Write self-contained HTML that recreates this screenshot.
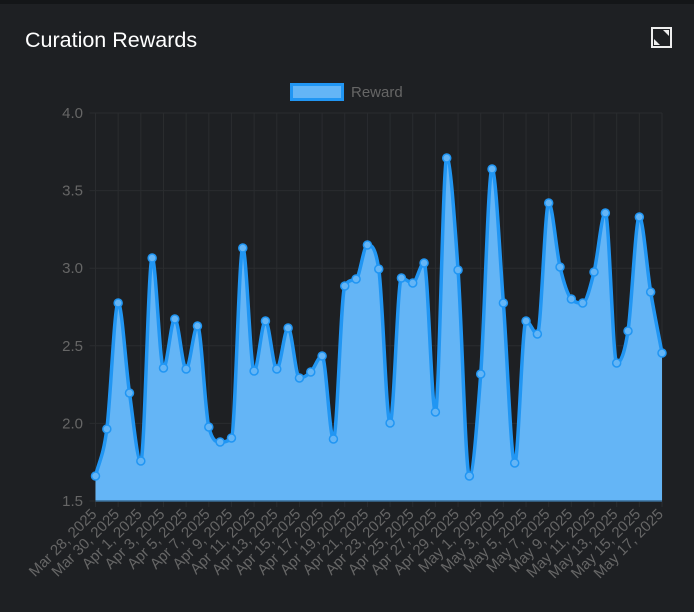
<!DOCTYPE html>
<html><head><meta charset="utf-8"><style>
html,body{margin:0;padding:0;background:#1e2023;width:694px;height:612px;overflow:hidden;font-family:"Liberation Sans",sans-serif}
.top{position:absolute;left:0;top:0;width:694px;height:4px;background:#141618}
.title{position:absolute;left:25px;top:28px;color:#fff;font-size:21.5px}
.icon{position:absolute;left:651px;top:27px;width:21px;height:21px;border:2px solid #eee;box-sizing:border-box}
</style></head><body>
<div class="top"></div>
<div class="title">Curation Rewards</div>
<div class="icon"><svg width="17" height="17" style="position:absolute;left:0;top:0"><polygon points="1,10 1,16 7,16" fill="#eee"/><polygon points="10,1 16,1 16,7" fill="#eee"/></svg></div>
<svg id="c" width="694" height="612" style="position:absolute;left:0;top:0" font-family="Liberation Sans, sans-serif"></svg>
<script>
var ys=[476,429,303,393,461,258,368,319,369,326,427,442,438,248,371,321,369,328,378,372,356,439,286,279,245,269,423,278,283,263,412,158,270,476,374,169,303,463,321,334,203,267,299,303,272,213,363,331,217,292,353];
var x0=95.5,x1=662,y0=113,y1=501,n=ys.length,dx=(x1-x0)/(n-1);
var s='';
s+='<rect x="290" y="83" width="54" height="18" fill="#2196f3"/><rect x="293" y="86" width="48" height="12" fill="#64b5f6"/>';
s+='<text x="351" y="97" fill="#666" font-size="15">Reward</text>';
for(var i=0;i<=25;i++){var gx=x0+i*2*dx;s+='<line x1="'+gx+'" y1="'+y0+'" x2="'+gx+'" y2="'+(y1+6)+'" stroke="#2a2c2f"/>';}
var yl=['4.0','3.5','3.0','2.5','2.0','1.5'];
for(var j=0;j<6;j++){var gy=y0+j*(y1-y0)/5;s+='<line x1="'+(x0-6)+'" y1="'+gy+'" x2="'+x1+'" y2="'+gy+'" stroke="#2a2c2f"/>';s+='<text x="83" y="'+(gy+5)+'" fill="#666" font-size="15" text-anchor="end">'+yl[j]+'</text>';}
// monotone cubic
var P=ys.map(function(y,i){return [x0+i*dx,y];});
var del=[],m=[];
for(var i=0;i<n-1;i++)del.push((ys[i+1]-ys[i])/dx);
m[0]=del[0];m[n-1]=del[n-2];
for(var i=1;i<n-1;i++){m[i]=(del[i-1]*del[i]<=0)?0:(del[i-1]+del[i])/2;}
for(var i=0;i<n-1;i++){if(del[i]==0){m[i]=0;m[i+1]=0;continue;}var a=m[i]/del[i],b=m[i+1]/del[i],h=a*a+b*b;if(h>9){var t=3/Math.sqrt(h);m[i]=t*a*del[i];m[i+1]=t*b*del[i];}}
var d='M'+P[0][0]+','+P[0][1];
for(var i=0;i<n-1;i++){var h=dx/3;d+=' C'+(P[i][0]+h)+','+(P[i][1]+m[i]*h)+' '+(P[i+1][0]-h)+','+(P[i+1][1]-m[i+1]*h)+' '+P[i+1][0]+','+P[i+1][1];}
s+='<path d="'+d+' L'+x1+','+y1+' L'+x0+','+y1+'Z" fill="#64b5f6"/>';
s+='<path d="'+d+'" fill="none" stroke="#2196f3" stroke-width="3.5"/>';
s+='<line x1="'+x0+'" y1="'+y1+'" x2="'+x1+'" y2="'+y1+'" stroke="#3a6d96" stroke-width="1.5"/>';
P.forEach(function(p){s+='<circle cx="'+p[0]+'" cy="'+p[1]+'" r="4" fill="#64b5f6" stroke="#2196f3" stroke-width="1.5"/>';});
var mo=['Mar','Apr','May'];
for(var i=0;i<n;i+=2){var mm=0,dd=28+i;if(dd>31){dd-=31;mm=1;if(dd>30){dd-=30;mm=2;}}
var lx=x0+i*dx+2,ly=y1+14;
s+='<text transform="translate('+lx+','+ly+') rotate(-45)" fill="#666" font-size="15" text-anchor="end">'+mo[mm]+' '+dd+', 2025</text>';}
document.getElementById('c').innerHTML=s;
</script>
</body></html>
